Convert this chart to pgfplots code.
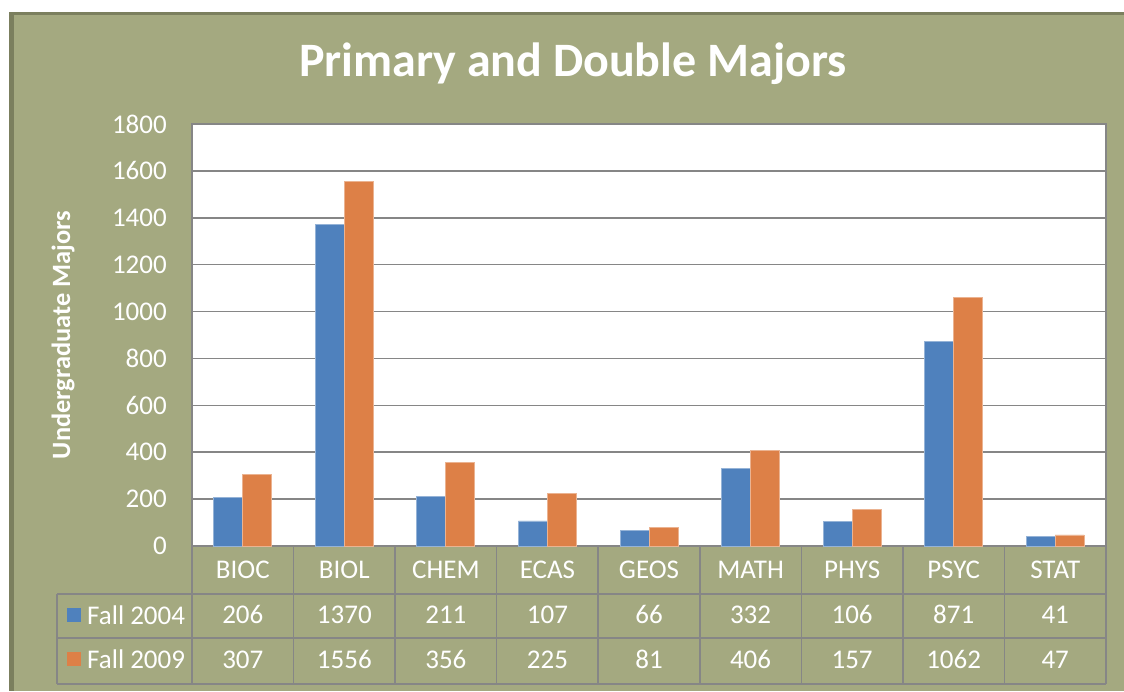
\documentclass[border=0pt]{standalone}
\usepackage{pgfplots}
\pgfplotsset{compat=1.18}
\usepackage{fontspec}
\setmainfont{Carlito}
\definecolor{bg}{RGB}{164,169,128}
\definecolor{bgdark}{RGB}{123,127,94}
\definecolor{barblue}{RGB}{79,129,189}
\definecolor{barorange}{RGB}{221,128,71}
\definecolor{gridgray}{RGB}{134,134,134}
\begin{document}
\begin{tikzpicture}[x=1pt,y=1pt]
\fill[white] (0,0) rectangle (1124,691);
\fill[bgdark] (9,0) rectangle (1124,679);
\fill[bg] (14,0) rectangle (1124,676);
\begin{axis}[
  at={(192pt,145pt)}, anchor=south west,
  width=914pt, height=422pt, scale only axis,
  xmin=-0.5, xmax=8.5, ymin=0, ymax=1800,
  ybar=0pt, bar width=29pt,
  axis background/.style={fill=white},
  axis line style={draw=gridgray, line width=1.5pt},
  ymajorgrids, grid style={draw=gridgray, line width=1.5pt},
  ytick={0,200,...,1800},
  xtick={0,...,8},
  xticklabels={{BIOC\\206\\307},{BIOL\\1370\\1556},{CHEM\\211\\356},{ECAS\\107\\225},{GEOS\\66\\81},{MATH\\332\\406},{PHYS\\106\\157},{PSYC\\871\\1062},{STAT\\41\\47}},
  major tick length=0pt,
  /pgf/number format/assume math mode=true,
  /pgf/number format/1000 sep={},
  yticklabel style={font=\fontsize{27}{32}\selectfont, text=white, anchor=east, inner sep=0pt, xshift=-25pt},
  xticklabel style={font=\fontsize{27}{45}\selectfont, text=white, align=center, anchor=north, inner sep=0pt, yshift=-15pt},
  ylabel={Undergraduate Majors},
  every axis y label/.style={at={(rel axis cs:0,0.5)}, xshift=-129pt, rotate=90, anchor=center, font=\fontsize{26.4}{30}\selectfont\bfseries, text=white},
  title={Primary and Double Majors},
  title style={at={(rel axis cs:0.4168,1)}, anchor=base, yshift=41pt, inner sep=0pt, font=\fontsize{48}{56}\selectfont\bfseries, text=white},
  clip=false,
]
\addplot[fill=barblue, draw=barblue!60!white, line width=0.8pt] coordinates {(0,206) (1,1370) (2,211) (3,107) (4,66) (5,332) (6,106) (7,871) (8,41)};
\addplot[fill=barorange, draw=barorange!60!white, line width=0.8pt] coordinates {(0,307) (1,1556) (2,356) (3,225) (4,81) (5,406) (6,157) (7,1062) (8,47)};
\end{axis}
% data table grid
\foreach \k in {0,...,9} {
  \draw[gridgray, line width=1.5pt] ({192+\k*101.56},145) -- ({192+\k*101.56},7);
}
\foreach \yy in {97,53,7} {
  \draw[gridgray, line width=1.5pt] (57,\yy) -- (1106,\yy);
}
\draw[gridgray, line width=1.5pt] (57,97) -- (57,7);
% legend keys
\fill[barblue] (67,69) rectangle (81,83);
\fill[barorange] (67,25) rectangle (81,39);
\node[anchor=west, inner sep=0pt, text=white, font=\fontsize{27}{32}\selectfont] at (87,76) {Fall 2004};
\node[anchor=west, inner sep=0pt, text=white, font=\fontsize{27}{32}\selectfont] at (87,32) {Fall 2009};
\end{tikzpicture}
\end{document}
